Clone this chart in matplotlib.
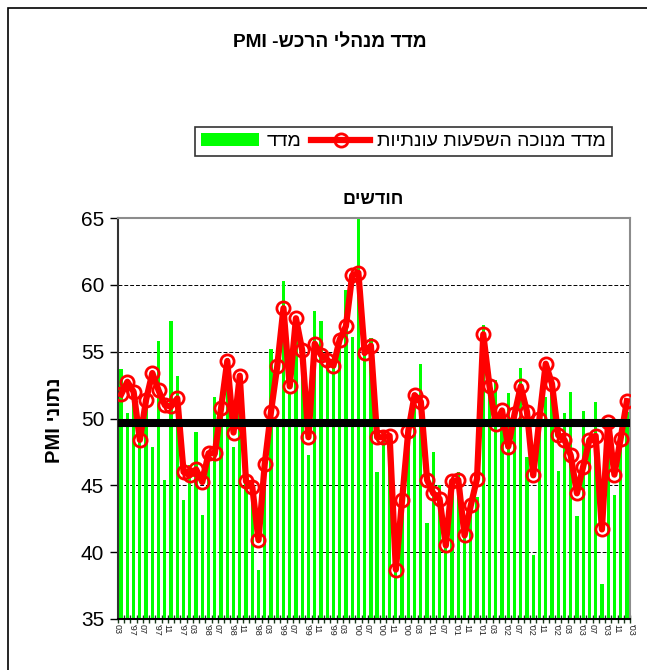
import re
import numpy as np
import matplotlib
matplotlib.use("Agg")
import matplotlib.pyplot as plt
import matplotlib.transforms as mtransforms
from matplotlib.patches import Rectangle, Patch
from matplotlib.lines import Line2D

plt.rcParams['font.family'] = ['Liberation Sans', 'DejaVu Sans']

# ---------------- data ----------------
title_text = "מדד מנהלי הרכש- PMI"
series_bar_name = "מדד"
series_line_name = "מדד מנוכה השפעות עונתיות"
x_title = "חודשים"
y_title = "נתוני PMI"

label_months = ["03", "07", "11"] * 7
label_years = ["'97"] * 3 + ["'98"] * 3 + ["'99"] * 3 + ["'00"] * 3 + ["'01"] * 3 + ["'02"] * 3 + ["'03"] * 3

pmi = [53.7, 50.4, 51.8, 48.8, 51.2, 47.9, 55.8, 45.4, 57.3, 53.2,
       43.9, 46.5, 49.0, 42.8, 46.9, 51.6, 50.5, 54.5, 47.9, 52.5,
       45.4, 45.0, 38.7, 46.0, 55.2, 50.0, 60.3, 52.0, 56.5, 55.5,
       47.3, 58.05, 57.3, 55.0, 54.5, 55.4, 59.6, 56.1, 64.9, 55.0,
       56.0, 46.0, 49.0, 48.5, 39.5, 44.5, 49.5, 51.0, 54.1, 42.2,
       47.5, 45.0, 41.5, 45.5, 46.0, 41.8, 44.0, 44.1, 57.0, 52.0,
       52.9, 50.0, 51.9, 50.8, 53.75, 47.1, 39.8, 50.5, 51.6, 52.0,
       46.1, 50.4, 51.95, 42.7, 50.55, 48.0, 51.2, 37.6, 49.0, 44.25,
       49.0, 50.5]

pmi_sa = [51.8, 52.75, 52.0, 48.4, 51.4, 53.4, 52.1, 51.0, 50.9, 51.5,
          46.0, 45.75, 46.2, 45.25, 47.4, 47.4, 50.75, 54.3, 48.95, 53.2,
          45.3, 44.9, 40.9, 46.6, 50.5, 53.9, 58.25, 52.4, 57.5, 55.1,
          48.6, 55.6, 54.75, 54.4, 53.95, 55.9, 56.9, 60.7, 60.9, 54.9,
          55.45, 48.6, 48.6, 48.7, 38.7, 43.9, 49.1, 51.75, 51.25, 45.4,
          44.4, 44.0, 40.5, 45.3, 45.4, 41.25, 43.5, 45.5, 56.3, 52.4,
          49.6, 50.6, 47.9, 50.3, 52.4, 50.5, 45.75, 50.0, 54.1, 52.6,
          48.75, 48.4, 47.25, 44.4, 46.4, 48.4, 48.7, 41.7, 49.75, 45.8,
          48.5, 51.3]

threshold = 49.7
yticks = [35, 40, 45, 50, 55, 60, 65]


def vis(s):
    """Logical RTL string -> visual order for left-to-right rendering."""
    r = s[::-1]
    return re.sub(r"[A-Za-z0-9]+", lambda m: m.group(0)[::-1], r)


# ---------------- figure ----------------
W, H = 647, 670
fig = plt.figure(figsize=(W / 100, H / 100), dpi=100)

# chart-area border
fig.add_artist(Rectangle((8 / W, -0.02), 1.0, 1 - 8 / H + 0.02, transform=fig.transFigure,
                         fill=False, edgecolor='black', lw=1.2))

ax = fig.add_axes([118 / W, 51 / H, 512 / W, 401 / H])

x = np.arange(len(pmi))
ax.bar(x, pmi, width=0.52, color='#00FF00', zorder=2)
ax.plot(x, pmi_sa, color='#FF0000', lw=4.5, marker='o', ms=9.5, mfc='none',
        mec='#FF0000', mew=2.0, zorder=3)
ax.axhline(threshold, color='black', lw=5.8, zorder=4)

ax.set_xlim(-0.5, len(pmi) - 0.5)
ax.set_ylim(35, 65)
ax.set_yticks(yticks)
ax.set_yticklabels([str(v) for v in yticks], fontsize=15)
ax.tick_params(axis='y', direction='out', length=6, width=1, pad=4, color='black')
ax.yaxis.grid(True, linestyle=(0, (4, 2)), color='black', lw=0.7, zorder=1)
ax.set_axisbelow(True)

ax.set_xticks(np.arange(-0.5, len(pmi), 1.0))
ax.set_xticklabels([])
ax.tick_params(axis='x', direction='inout', length=6, width=1, color='#1a3a1a')

for side in ['top', 'right']:
    ax.spines[side].set_color('#8c8c8c')
    ax.spines[side].set_linewidth(1.5)
ax.spines['left'].set_color('#333333')
ax.spines['left'].set_linewidth(1.5)
ax.spines['bottom'].set_color('black')
ax.spines['bottom'].set_linewidth(1.5)

# category labels (month / year columns)
trans = mtransforms.blended_transform_factory(ax.transData, ax.transAxes)
for k, (m, yr) in enumerate(zip(label_months, label_years)):
    ax.text(4 * k - 0.6, -0.012, m, transform=trans, rotation=-90, ha='center', va='top',
            fontsize=6.5, color='#222222', clip_on=False)
    ax.text(4 * k + 1.7, -0.012, yr, transform=trans, rotation=-90, ha='center', va='top',
            fontsize=6.5, color='#222222', clip_on=False)

# titles
fig.text(330 / W, 1 - 42 / H, vis(title_text), ha='center', va='center',
         fontsize=13.8, fontweight='bold')
fig.text(373 / W, 1 - 199 / H, vis(x_title), ha='center', va='center',
         fontsize=13, fontweight='bold')
fig.text(55 / W, 1 - 420 / H, vis(y_title), ha='center', va='center', rotation=90,
         fontsize=14.5, fontweight='bold')

# legend
h_bar = Patch(facecolor='#00FF00', edgecolor='none')
h_line = Line2D([], [], color='#FF0000', lw=4.5, marker='o', ms=9.5, mfc='none',
                mec='#FF0000', mew=2.0)
leg = fig.legend([h_bar, h_line], [vis(series_bar_name), vis(series_line_name)],
                 loc='center', bbox_to_anchor=(403.5 / W, 1 - 141.5 / H), ncol=2,
                 fontsize=14, frameon=True, fancybox=False, edgecolor='#333333',
                 framealpha=1, handlelength=3.0, handletextpad=0.4, columnspacing=0.5,
                 borderpad=0.3)
leg.get_frame().set_linewidth(1.2)

fig.savefig("out.png", dpi=100)
